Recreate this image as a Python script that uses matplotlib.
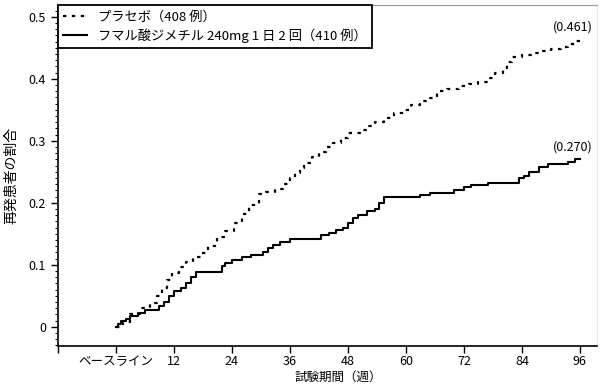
import matplotlib.pyplot as plt
from matplotlib.ticker import MultipleLocator

plt.rcParams['font.family'] = ['Noto Sans CJK JP', 'DejaVu Sans']

# Kaplan-Meier style cumulative proportions
placebo_weeks = [0, 1.5, 3, 5, 7, 8.5, 9.5, 10.5, 11.5, 13, 14.5, 16, 17.5, 19, 21,
                 22.5, 24.5, 26, 27.5, 29.5, 31, 33, 34.5, 36, 37, 38, 39, 40.5, 42,
                 43.5, 45, 46.5, 48, 50.5, 52, 53.5, 55.5, 57.5, 59.5, 61, 63, 65,
                 66.5, 68.5, 71, 73, 75, 77, 78.5, 80, 81, 82, 84, 86, 88, 90, 92,
                 93.5, 95, 96]
placebo_values = [0, 0.008, 0.02, 0.03, 0.039, 0.05, 0.062, 0.075, 0.087, 0.097, 0.105,
                  0.112, 0.119, 0.13, 0.145, 0.155, 0.168, 0.182, 0.196, 0.214, 0.218,
                  0.222, 0.23, 0.24, 0.248, 0.256, 0.264, 0.274, 0.282, 0.29, 0.297,
                  0.305, 0.313, 0.318, 0.324, 0.33, 0.337, 0.345, 0.35, 0.358, 0.364,
                  0.369, 0.38, 0.384, 0.388, 0.392, 0.395, 0.402, 0.41, 0.418, 0.427,
                  0.435, 0.438, 0.442, 0.445, 0.448, 0.452, 0.456, 0.461, 0.461]

dmf_weeks = [0, 0.5, 1, 2, 3, 4.5, 6, 8, 9, 10, 11, 12, 13.5, 14.5, 15.5, 16.5, 19, 21,
             22, 22.5, 24, 26, 28, 30.5, 31.5, 32.5, 34, 36, 41.5, 42.5, 44, 45.5, 47,
             48, 49, 50, 52, 53.5, 54.5, 55.5, 62, 63, 65, 70, 72, 73.5, 77, 82.5,
             83.5, 84.5, 85.5, 87.5, 89.5, 93.5, 95, 96]
dmf_values = [0, 0.005, 0.01, 0.013, 0.018, 0.022, 0.027, 0.027, 0.033, 0.04, 0.05,
              0.057, 0.063, 0.07, 0.08, 0.088, 0.088, 0.089, 0.098, 0.103, 0.108,
              0.112, 0.116, 0.121, 0.127, 0.132, 0.137, 0.142, 0.142, 0.148, 0.152,
              0.156, 0.16, 0.167, 0.175, 0.181, 0.186, 0.19, 0.2, 0.209, 0.209, 0.212,
              0.216, 0.221, 0.225, 0.228, 0.232, 0.232, 0.24, 0.244, 0.249, 0.258,
              0.262, 0.265, 0.27, 0.27]

x_ticks = [-12, 0, 12, 24, 36, 48, 60, 72, 84, 96]
x_labels = ['', 'ベースライン', '12', '24', '36', '48', '60', '72', '84', '96']
y_ticks = [0, 0.1, 0.2, 0.3, 0.4, 0.5]
y_labels = ['0', '0.1', '0.2', '0.3', '0.4', '0.5']

fig = plt.figure(figsize=(6.01, 3.87), dpi=100)
ax = fig.add_axes([0.0965, 0.106, 0.8965, 0.881])

ax.plot(placebo_weeks, placebo_values, drawstyle='steps-post', color='black',
        linewidth=1.6, linestyle=(0, (1.5, 2.5)), label='プラセボ（408 例）')
ax.plot(dmf_weeks, dmf_values, drawstyle='steps-post', color='black',
        linewidth=1.5, label='フマル酸ジメチル 240mg 1 日 2 回（410 例）')

# end-of-study values
ax.text(98.6, placebo_values[-1] + 0.023, f'({placebo_values[-1]:.3f})',
        ha='right', va='center', fontsize=9)
ax.text(98.6, dmf_values[-1] + 0.02, f'({dmf_values[-1]:.3f})',
        ha='right', va='center', fontsize=9)

ax.set_xlim(-12, 99.5)
ax.set_ylim(-0.031, 0.519)
ax.set_xticks(x_ticks)
ax.set_xticklabels(x_labels, fontsize=9)
ax.set_yticks(y_ticks)
ax.set_yticklabels(y_labels, fontsize=9)
ax.yaxis.set_minor_locator(MultipleLocator(0.01))
ax.tick_params(axis='both', which='major', direction='out', length=5, width=1)
ax.tick_params(axis='x', which='major', pad=1.5)
ax.tick_params(axis='y', which='minor', direction='out', length=2.5, width=0.8)

ax.spines['left'].set_linewidth(1.2)
ax.spines['bottom'].set_linewidth(1.2)
ax.spines['top'].set_color('#999999')
ax.spines['right'].set_color('#e8e8e8')

ax.set_xlabel('試験期間（週）', fontsize=9, va='center')
ax.set_ylabel('再発患者の割合', fontsize=10)
ax.xaxis.set_label_coords(0.52, -0.093)
ax.yaxis.set_label_coords(-0.074, 0.5)

leg = ax.legend(loc='upper left', bbox_to_anchor=(0, 1), borderaxespad=0,
                fancybox=False, framealpha=1, edgecolor='black', fontsize=9.5,
                handlelength=1.8, handletextpad=0.8, borderpad=0.4,
                labelspacing=0.35)
leg.get_frame().set_linewidth(1.3)

plt.savefig('out.png', dpi=100)
